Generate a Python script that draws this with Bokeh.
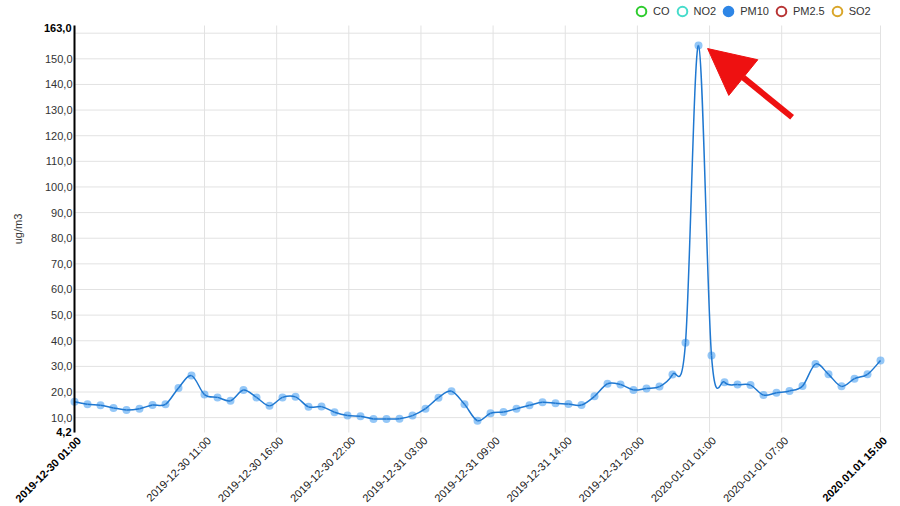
import numpy as np
from math import pi
from bokeh.plotting import figure
from bokeh.models import (Range1d, FixedTicker, LinearAxis, Label, Legend, LegendItem,
                          Arrow, NormalHead)
from bokeh.embed import file_html
from bokeh.resources import INLINE

# ---------------- data ----------------
pm10 = [16.2, 15.2, 14.8, 13.8, 13.0, 13.5, 14.9, 15.2, 21.6, 26.4,
        19.0, 17.9, 16.6, 20.8, 17.9, 14.6, 17.9, 18.1, 14.2, 14.3,
        12.1, 10.8, 10.5, 9.5, 9.5, 9.6, 10.8, 13.5, 17.8, 20.3,
        15.2, 8.8, 11.7, 12.2, 13.5, 14.8, 16.0, 15.6, 15.3, 14.9,
        18.3, 23.2, 22.9, 20.8, 21.4, 22.1, 26.8, 39.2, 155.2, 34.2,
        23.8, 22.9, 22.7, 18.8, 19.7, 20.4, 22.3, 30.9, 26.9, 22.2,
        25.2, 26.9, 32.3]

x_tick_labels = ["2019-12-30 01:00", "2019-12-30 11:00", "2019-12-30 16:00",
                 "2019-12-30 22:00", "2019-12-31 03:00", "2019-12-31 09:00",
                 "2019-12-31 14:00", "2019-12-31 20:00", "2020-01-01 01:00",
                 "2020-01-01 07:00", "2020.01.01 15:00"]

y_min, y_max = 4.2, 163.0
y_label_ticks = [10, 20, 30, 40, 50, 60, 70, 80, 90, 100, 110, 120, 130, 140, 150]
y_grid_ticks = [10, 20, 30, 40, 50, 60, 70, 80, 90, 100, 110, 120, 130, 140, 150, 160]

legend_names = ["CO", "NO2", "PM10", "PM2.5", "SO2"]
legend_colors = ["#2ecc2e", "#46dccb", "#2e86e6", "#b83434", "#d9a62a"]
legend_filled = [False, False, True, False, False]

# ---------------- geometry ----------------
W, H = 900, 506
L, R, T, B = 74, 20, 25, 74          # plot-area margins in px
n = len(pm10)
xs = np.arange(n, dtype=float)
ys = np.array(pm10, dtype=float)

ux = (n - 1) / (W - L - R)           # data units per px (x)
uy = (y_max - y_min) / (H - T - B)   # data units per px (y)
x_lo, x_hi = -L * ux, (n - 1) + R * ux
y_lo, y_hi = y_min - B * uy, y_max + T * uy

FONT = "Liberation Sans"
GRID = "#e2e2e2"

# the frame covers the whole canvas; axes are placed at fixed locations inside it
p = figure(width=W, height=H, x_range=Range1d(x_lo, x_hi), y_range=Range1d(y_lo, y_hi),
           output_backend="svg", toolbar_location=None,
           x_axis_location=None, y_axis_location=None, min_border=0)
p.outline_line_color = None
p.background_fill_color = "white"
p.grid.visible = False

# x tick positions (category grid spacing of the original chart)
tick_pos = [0.0] + [10 + 5.55 * k for k in range(9)] + [float(n - 1)]
lab_shift = 0.35                      # labels sit slightly right of their grid line
lab_pos = [t + lab_shift for t in tick_pos]

# grid lines limited to the plot area
p.segment(x0=[0.0] * len(y_grid_ticks), y0=y_grid_ticks,
          x1=[float(n - 1)] * len(y_grid_ticks), y1=y_grid_ticks, line_color=GRID, line_width=1)
p.segment(x0=tick_pos, y0=[y_min] * len(tick_pos), x1=tick_pos, y1=[y_max] * len(tick_pos),
          line_color=GRID, line_width=1)

# ---------------- axes ----------------
yax = LinearAxis(fixed_location=0, bounds=(y_min, y_max), ticker=FixedTicker(ticks=y_label_ticks),
                 major_label_overrides={v: f"{v:.1f}".replace(".", ",") for v in y_label_ticks},
                 axis_line_color="black", axis_line_width=2,
                 major_tick_line_color=None, minor_tick_line_color=None,
                 major_tick_out=0, major_tick_in=0, major_label_standoff=2,
                 major_label_text_font=FONT, major_label_text_font_size="11px",
                 major_label_text_color="#333333")
p.add_layout(yax, "left")

mid_pos = lab_pos[1:-1]
xax = LinearAxis(fixed_location=y_min, ticker=FixedTicker(ticks=mid_pos),
                 major_label_overrides={t: lab for t, lab in zip(mid_pos, x_tick_labels[1:-1])},
                 major_label_orientation=pi / 4, axis_line_color=None,
                 major_tick_line_color=None, minor_tick_line_color=None,
                 major_tick_out=0, major_tick_in=0, major_label_standoff=6,
                 major_label_text_font=FONT, major_label_text_font_size="11px",
                 major_label_text_color="#1a1a1a")
p.add_layout(xax, "below")

# bold first / last x labels
for idx in (0, len(x_tick_labels) - 1):
    p.add_layout(Label(x=lab_pos[idx], y=y_min - 6 * uy, text=x_tick_labels[idx], angle=pi / 4,
                       text_align="right", text_baseline="middle", text_font=FONT,
                       text_font_size="11px", text_font_style="bold", text_color="#000000"))

# bold min / max labels on the value axis
for val, dy in ((y_max, -2), (y_min, 1)):
    p.add_layout(Label(x=-3 * ux, y=val + dy * uy, text=f"{val:.1f}".replace(".", ","),
                       text_align="right", text_baseline="middle", text_font=FONT,
                       text_font_size="11px", text_font_style="bold", text_color="#000000"))

# value-axis title
p.add_layout(Label(x=-57 * ux, y=(y_min + y_max) / 2, text="ug/m3", angle=pi / 2,
                   text_align="center", text_baseline="middle", text_font=FONT,
                   text_font_size="11px", text_color="#333333"))

# ---------------- series ----------------
p.scatter(xs, ys, size=8, fill_color="#5aa9f2", fill_alpha=0.65, line_color=None)

P = np.column_stack([xs, ys])
Pm = np.vstack([P[0], P, P[-1]])
p0, p1, p2, p3 = Pm[:-3], Pm[1:-2], Pm[2:-1], Pm[3:]
c1 = p1 + (p2 - p0) / 6.0
c2 = p2 - (p3 - p1) / 6.0
p.bezier(x0=p1[:, 0], y0=p1[:, 1], x1=p2[:, 0], y1=p2[:, 1],
         cx0=c1[:, 0], cy0=c1[:, 1], cx1=c2[:, 0], cy1=c2[:, 1],
         line_color="#1f78d1", line_width=1.5)

# ---------------- legend ----------------
items = []
for name, col, filled in zip(legend_names, legend_colors, legend_filled):
    r = p.scatter([0.0], [float("nan")], size=10, marker="circle", line_color=col, line_width=2,
                  fill_color=col, fill_alpha=1.0 if filled else 0.0)
    items.append(LegendItem(label=name, renderers=[r]))
legend = Legend(items=items, orientation="horizontal", location=(629, H - 23),
                glyph_width=24, glyph_height=24, label_standoff=0, spacing=0, label_width=5,
                padding=0, margin=0, border_line_color=None, background_fill_alpha=0,
                label_text_font=FONT, label_text_font_size="11px", label_text_color="#333333")
p.add_layout(legend, "center")

# ---------------- arrow annotation ----------------
pk = int(np.argmax(ys))
red = "#ee1111"
p.add_layout(Arrow(end=NormalHead(size=46, fill_color=red, line_color=red),
                   x_start=pk + 7.2, y_start=ys[pk] - 28, x_end=pk + 0.7, y_end=ys[pk] - 1.2,
                   line_color=red, line_width=6))

open("out.html", "w").write(file_html(p, INLINE))
